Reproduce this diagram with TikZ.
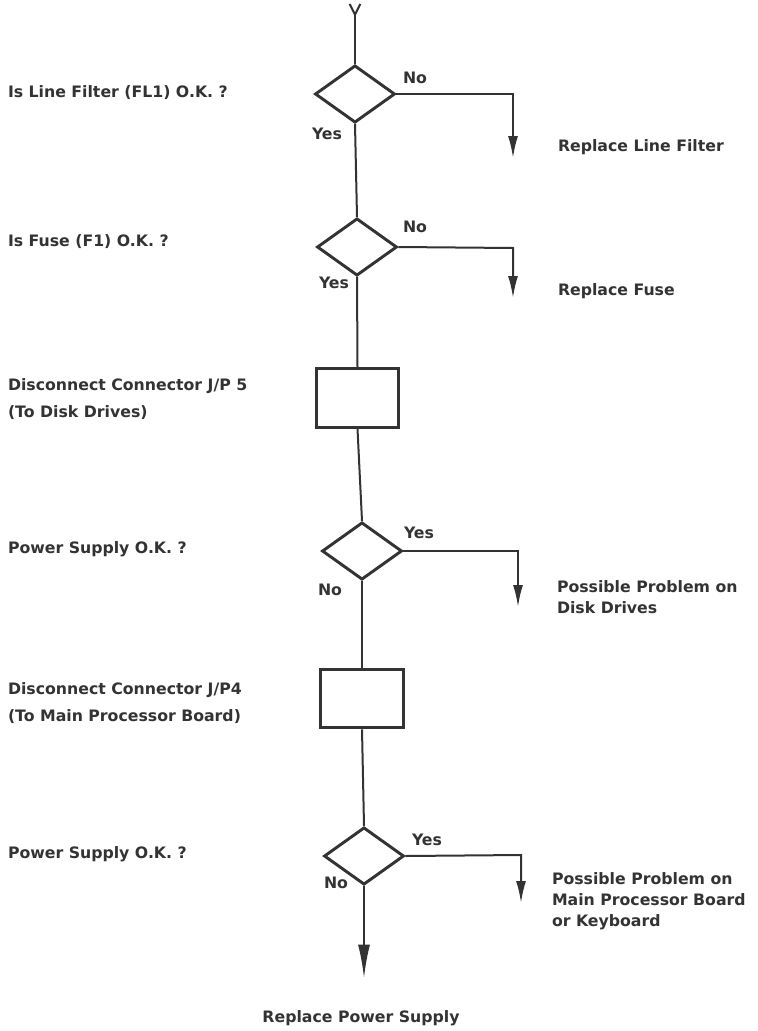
\documentclass[tikz,border=0pt]{standalone}
\usepackage{fontspec}
\setmainfont{DejaVu Sans}
\definecolor{ink}{HTML}{333333}
\usetikzlibrary{arrows.meta, shapes.geometric}

\begin{document}
\begin{tikzpicture}[x=0.75pt, y=-0.75pt, color=ink, line width=1.5pt,
  decision/.style={draw, diamond, line width=2.2pt, inner sep=0pt,
    minimum width=60pt, minimum height=43pt},
  stepbox/.style={draw, rectangle, line width=2.2pt, inner sep=0pt,
    minimum width=62pt, minimum height=44pt},
  lbl/.style={font=\fontsize{11.8}{20}\selectfont\bfseries, inner sep=0pt, align=left, anchor=base west},
  outcome/.style={font=\fontsize{11.8}{15.6}\selectfont\bfseries, inner sep=0pt, align=left, anchor=base west},
  yn/.style={font=\fontsize{11.8}{14}\selectfont\bfseries, inner sep=0pt},
  flow/.style={-{Latex[length=16.5pt, width=7.5pt]}}]
  \useasboundingbox (0,0) rectangle (757,1031);

  % flow column
  \coordinate (entry) at (355,3);
  \node[decision] (lf) at (355,94) {};
  \node[decision] (fuse) at (357,247) {};
  \node[stepbox] (jp5) at (357.5,398) {};
  \node[decision] (ps1) at (362,551) {};
  \node[stepbox] (jp4) at (362,698.5) {};
  \node[decision] (ps2) at (364,856) {};
  \coordinate (end) at (364,978);

  % side branches
  \coordinate (lfturn) at (513,94);   \coordinate (lfout) at (513,158);
  \coordinate (fuseturn) at (513,248); \coordinate (fuseout) at (513,298);
  \coordinate (ps1turn) at (518,551);  \coordinate (ps1out) at (518,607);
  \coordinate (ps2turn) at (521,855);  \coordinate (ps2out) at (521,903);

  \draw[{Straight Barb[reversed, length=8pt, width=8pt]}-] (entry) -- (lf.north);
  \draw (lf.south) -- (fuse.north);
  \draw (fuse.south) -- (jp5.north);
  \draw (jp5.south) -- (ps1.north);
  \draw (ps1.south) -- (jp4.north);
  \draw (jp4.south) -- (ps2.north);
  \draw[-{Latex[length=25pt, width=9pt]}] (ps2.south) -- (end);

  \draw[flow] (lf.east) -- (lfturn) -- (lfout);
  \draw[flow] (fuse.east) -- (fuseturn) -- (fuseout);
  \draw[flow] (ps1.east) -- (ps1turn) -- (ps1out);
  \draw[flow] (ps2.east) -- (ps2turn) -- (ps2out);

  % yes / no
  \node[yn] (lfno) at (415,78) {No};
  \node[yn] (lfyes) at (327,134) {Yes};
  \node[yn] (fuseno) at (415,227) {No};
  \node[yn] (fuseyes) at (334,283) {Yes};
  \node[yn] (ps1yes) at (419,533) {Yes};
  \node[yn] (ps1no) at (330,590) {No};
  \node[yn] (ps2yes) at (427,840) {Yes};
  \node[yn] (ps2no) at (336,883) {No};

  % questions and actions
  \node[lbl] (qlf) at (7,98) {Is Line Filter (FL1) O.K. ?};
  \node[lbl] (qfuse) at (7,246) {Is Fuse (F1) O.K. ?};
  \node[lbl] (ajp5) at (7,417) {Disconnect Connector J/P 5\\(To Disk Drives)};
  \node[lbl] (qps1) at (7,553) {Power Supply O.K. ?};
  \node[lbl] (ajp4) at (7,721) {Disconnect Connector J/P4\\(To Main Processor Board)};
  \node[lbl] (qps2) at (7,858) {Power Supply O.K. ?};

  \node[outcome] (rlf) at (557,151) {Replace Line Filter};
  \node[outcome] (rfuse) at (557,295) {Replace Fuse};
  \node[outcome] (rdisk) at (556,613) {Possible Problem on\\Disk Drives};
  \node[outcome] (rmain) at (551,926) {Possible Problem on\\Main Processor Board\\or Keyboard};
  \node[yn, anchor=base] (rps) at (361,1022) {Replace Power Supply};
\end{tikzpicture}
\end{document}
